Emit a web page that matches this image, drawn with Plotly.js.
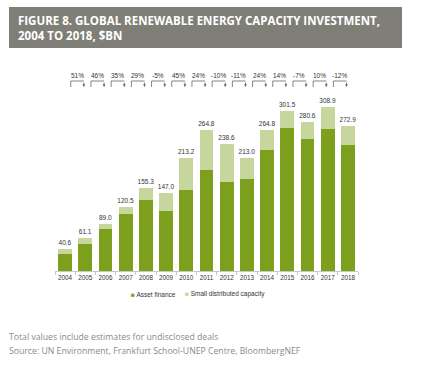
<!DOCTYPE html>
<html>
<head>
<meta charset="utf-8">
<script src="https://cdn.plot.ly/plotly-3.0.1.min.js"></script>
<style>html,body{margin:0;padding:0;background:#fff;}#chart{width:432px;height:365px;}</style>
</head>
<body>
<div id="chart"></div>
<script>
const years = ['2004','2005','2006','2007','2008','2009','2010','2011','2012','2013','2014','2015','2016','2017','2018'];
const assetFinance = [31.4, 50.8, 79.0, 106.6, 132.9, 112.2, 152.3, 188.9, 167.9, 172.4, 227.4, 268.8, 247.6, 266.4, 236.3];
const smallDistributed = [9.2, 10.3, 10.0, 13.9, 22.4, 34.8, 60.9, 75.9, 70.7, 40.6, 37.4, 32.7, 33.0, 42.5, 36.6];
const totalLabels = ['40.6','61.1','89.0','120.5','155.3','147.0','213.2','264.8','238.6','213.0','264.8','301.5','280.6','308.9','272.9'];
const growthLabels = ['51%','46%','35%','29%','-5%','45%','24%','-10%','-11%','24%','14%','-7%','10%','-12%'];

const DARK = '#7d9f1e', LIGHT = '#c6d69c';
const chartFont = 'Liberation Sans, Arial, sans-serif';
const noteFont = 'Open Sans, sans-serif';

// pixel helpers (plot area: x 55..358, y 90..271)
const px = x => (x - 55) / 303;
const py = y => (271 - y) / 181;

const traces = [
  {type:'bar', name:'Asset finance', x:years, y:assetFinance, marker:{color:DARK}, hoverinfo:'skip'},
  {type:'bar', name:'Small distributed capacity', x:years, y:smallDistributed, marker:{color:LIGHT},
   text:totalLabels, textposition:'outside', constraintext:'none', cliponaxis:false,
   textfont:{family:chartFont, size:6.5, color:'#333'}, hoverinfo:'skip'}
];

const shapes = [
  {type:'rect', xref:'paper', yref:'paper', x0:px(9), x1:px(402), y0:py(48), y1:py(7),
   fillcolor:'#7f7f77', line:{width:0}, layer:'below'}
];
const annotations = [
  {xref:'paper', yref:'paper', x:px(16), y:py(27.5), xanchor:'left', yanchor:'middle', align:'left', showarrow:false,
   text:'<b>FIGURE 8. GLOBAL RENEWABLE ENERGY CAPACITY INVESTMENT,<br>2004 TO 2018, $BN</b>',
   font:{family:noteFont, size:11.5, color:'#ffffff'}},
  {xref:'paper', yref:'paper', x:px(7), y:py(336.7), xanchor:'left', yanchor:'middle', showarrow:false,
   text:'Total values include estimates for undisclosed deals', font:{family:noteFont, size:8.7, color:'#8a8a8a'}},
  {xref:'paper', yref:'paper', x:px(7), y:py(350.5), xanchor:'left', yanchor:'middle', showarrow:false,
   text:'Source: UN Environment, Frankfurt School-UNEP Centre, BloombergNEF', font:{family:noteFont, size:8.7, color:'#8a8a8a'}},
  {xref:'paper', yref:'paper', x:px(129), y:py(294), xanchor:'left', yanchor:'middle', showarrow:false,
   text:'<span style="color:'+DARK+'">■</span> Asset finance', font:{family:chartFont, size:6.5, color:'#333'}},
  {xref:'paper', yref:'paper', x:px(183), y:py(294), xanchor:'left', yanchor:'middle', showarrow:false,
   text:'<span style="color:'+LIGHT+'">■</span> Small distributed capacity', font:{family:chartFont, size:6.5, color:'#333'}}
];

const yTop = py(81), yBot = py(87);
growthLabels.forEach((lab, i) => {
  const x0 = i + 0.28, x1 = i + 0.93;
  shapes.push({type:'line', xref:'x', yref:'paper', x0:x0, x1:x0, y0:yBot, y1:yTop, line:{color:'#666', width:0.8}});
  shapes.push({type:'line', xref:'x', yref:'paper', x0:x0, x1:x1, y0:yTop, y1:yTop, line:{color:'#666', width:0.8}});
  annotations.push({xref:'x', yref:'paper', x:x1, y:yBot, ax:0, ay:-6, showarrow:true, arrowhead:2,
    arrowsize:0.7, arrowwidth:0.8, arrowcolor:'#666', text:''});
  annotations.push({xref:'x', yref:'paper', x:i + 0.6, y:py(75.7), yanchor:'middle', showarrow:false,
    text:lab, font:{family:chartFont, size:6.5, color:'#333'}});
});

const layout = {
  width:432, height:365,
  margin:{l:55, r:74, t:90, b:94},
  paper_bgcolor:'#ffffff', plot_bgcolor:'#ffffff',
  barmode:'stack', bargap:0.31,
  showlegend:false,
  xaxis:{type:'category', showline:true, linecolor:'#c8c8c8', linewidth:1, ticks:'outside', tickson:'boundaries',
    ticklen:3, tickcolor:'#c8c8c8', tickangle:0, tickfont:{family:chartFont, size:6.3, color:'#333'},
    fixedrange:true, showgrid:false},
  yaxis:{visible:false, range:[0,340], fixedrange:true, showgrid:false, zeroline:false},
  shapes:shapes, annotations:annotations,
  font:{family:chartFont}
};
Plotly.newPlot('chart', traces, layout, {displayModeBar:false, staticPlot:true});
</script>
</body>
</html>
